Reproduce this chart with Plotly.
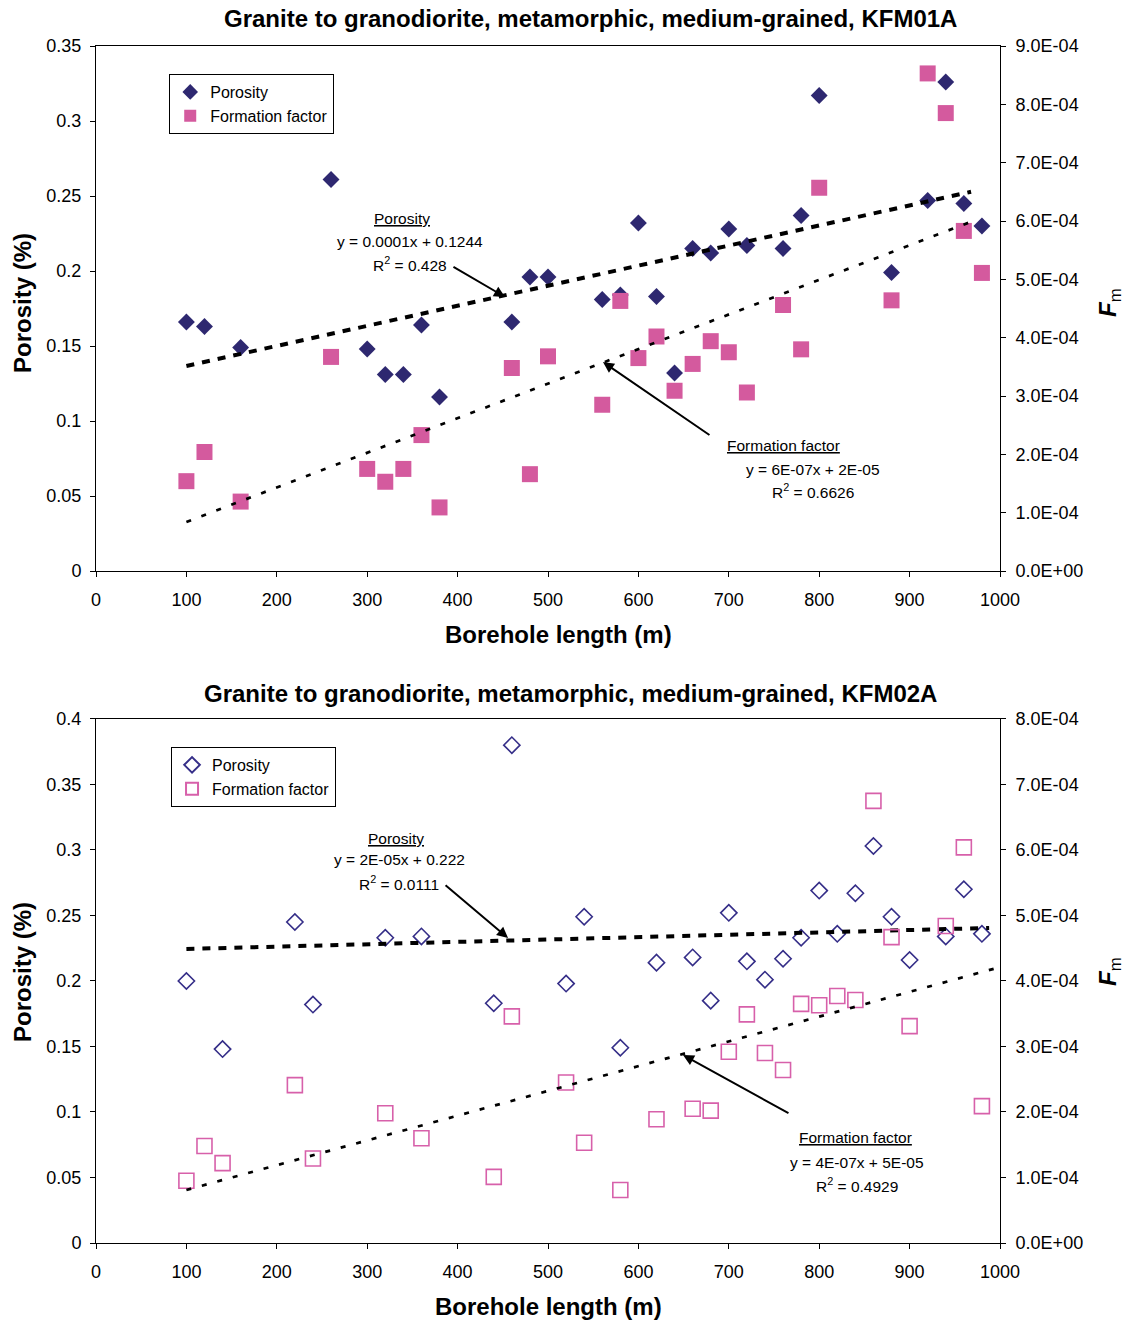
import numpy as np
import plotly.graph_objects as go

# ---------------- data ----------------
# KFM01A
x_top = [100, 120, 160, 260, 300, 320, 340, 360, 380, 460, 480, 500, 560, 580, 600,
         620, 640, 660, 680, 700, 720, 760, 780, 800, 880, 920, 940, 960, 980]
por_top = [0.166, 0.163, 0.149, 0.261, 0.148, 0.131, 0.131, 0.164, 0.116, 0.166, 0.196,
           0.196, 0.181, 0.184, 0.232, 0.183, 0.132, 0.215, 0.212, 0.228, 0.217, 0.215,
           0.237, 0.317, 0.199, 0.247, 0.326, 0.245, 0.230]
ff_top = [1.54e-4, 2.04e-4, 1.19e-4, 3.67e-4, 1.75e-4, 1.53e-4, 1.75e-4, 2.33e-4, 1.09e-4,
          3.48e-4, 1.66e-4, 3.68e-4, 2.85e-4, 4.63e-4, 3.65e-4, 4.02e-4, 3.09e-4, 3.55e-4,
          3.94e-4, 3.75e-4, 3.06e-4, 4.56e-4, 3.80e-4, 6.57e-4, 4.64e-4, 8.53e-4, 7.85e-4,
          5.83e-4, 5.11e-4]

# KFM02A
x_bot_por = [100, 140, 220, 240, 320, 360, 440, 460, 520, 540, 580, 620, 660, 680, 700,
             720, 740, 760, 780, 800, 820, 840, 860, 880, 900, 940, 960, 980]
por_bot = [0.200, 0.148, 0.245, 0.182, 0.233, 0.234, 0.183, 0.380, 0.198, 0.249, 0.149,
           0.214, 0.218, 0.185, 0.252, 0.215, 0.201, 0.217, 0.233, 0.269, 0.236, 0.267,
           0.303, 0.249, 0.216, 0.234, 0.270, 0.236]
x_bot_ff = [100, 120, 140, 220, 240, 320, 360, 440, 460, 520, 540, 580, 620, 660, 680,
            700, 720, 740, 760, 780, 800, 820, 840, 860, 880, 900, 940, 960, 980]
ff_bot = [0.95e-4, 1.48e-4, 1.22e-4, 2.41e-4, 1.29e-4, 1.98e-4, 1.60e-4, 1.01e-4, 3.46e-4,
          2.45e-4, 1.53e-4, 0.81e-4, 1.89e-4, 2.05e-4, 2.02e-4, 2.92e-4, 3.49e-4, 2.90e-4,
          2.64e-4, 3.65e-4, 3.63e-4, 3.77e-4, 3.71e-4, 6.75e-4, 4.67e-4, 3.31e-4, 4.84e-4,
          6.04e-4, 2.09e-4]

# trendlines as drawn in the picture: (slope, intercept, x start, x end)
trend_top_por = [1.338e-4, 0.1233, 100, 968]
trend_top_ff = [5.93e-7, 2.47e-5, 100, 968]
trend_bot_por = [1.81e-5, 0.2226, 100, 988]
trend_bot_ff = [3.78e-7, 4.32e-5, 100, 1000]

titles = ["Granite to granodiorite, metamorphic, medium-grained, KFM01A",
          "Granite to granodiorite, metamorphic, medium-grained, KFM02A"]
x_ticks = [0, 100, 200, 300, 400, 500, 600, 700, 800, 900, 1000]
right_ticks_top = [0, 1e-4, 2e-4, 3e-4, 4e-4, 5e-4, 6e-4, 7e-4, 8e-4, 9e-4]
right_ticks_bot = [0, 1e-4, 2e-4, 3e-4, 4e-4, 5e-4, 6e-4, 7e-4, 8e-4]
eq_top_por = ["y = 0.0001x + 0.1244", "R<sup>2</sup> = 0.428"]
eq_top_ff = ["y = 6E-07x + 2E-05", "R<sup>2</sup> = 0.6626"]
eq_bot_por = ["y = 2E-05x + 0.222", "R<sup>2</sup> = 0.0111"]
eq_bot_ff = ["y = 4E-07x + 5E-05", "R<sup>2</sup> = 0.4929"]

# ---------------- style ----------------
FONT = "Liberation Sans, Arial, sans-serif"
NAVY = "#2E2870"
PINK = "#D45A9E"
OPEN_NAVY = "#352E88"
OPEN_PINK = "#D760AA"


def fmt_e(v):
    return f"{v:.1E}"


def trend(params):
    k, b, x0, x1 = params
    xx = np.array([x0, x1], dtype=float)
    return xx, k * xx + b


fig = go.Figure()

# ---- top panel ----
fig.add_trace(go.Scatter(x=x_top, y=por_top, mode="markers", name="Porosity",
                         marker=dict(symbol="diamond", size=13, color=NAVY, line=dict(width=0)),
                         xaxis="x", yaxis="y", legend="legend"))
fig.add_trace(go.Scatter(x=x_top, y=ff_top, mode="markers", name="Formation factor",
                         marker=dict(symbol="square", size=16, color=PINK, line=dict(width=0)),
                         xaxis="x", yaxis="y2", legend="legend"))
tx, ty = trend(trend_top_por)
fig.add_trace(go.Scatter(x=tx, y=ty, mode="lines", showlegend=False,
                         line=dict(color="black", width=4, dash="8px,8px"),
                         xaxis="x", yaxis="y"))
tx, ty = trend(trend_top_ff)
fig.add_trace(go.Scatter(x=tx, y=ty, mode="lines", showlegend=False,
                         line=dict(color="black", width=2.7, dash="5px,11px"),
                         xaxis="x", yaxis="y2"))

# ---- bottom panel ----
fig.add_trace(go.Scatter(x=x_bot_por, y=por_bot, mode="markers", name="Porosity",
                         marker=dict(symbol="diamond-open", size=12.5, color=OPEN_NAVY,
                                     line=dict(width=1.6, color=OPEN_NAVY)),
                         xaxis="x2", yaxis="y3", legend="legend2"))
fig.add_trace(go.Scatter(x=x_bot_ff, y=ff_bot, mode="markers", name="Formation factor",
                         marker=dict(symbol="square-open", size=15, color=OPEN_PINK,
                                     line=dict(width=1.6, color=OPEN_PINK)),
                         xaxis="x2", yaxis="y4", legend="legend2"))
tx, ty = trend(trend_bot_por)
fig.add_trace(go.Scatter(x=tx, y=ty, mode="lines", showlegend=False,
                         line=dict(color="black", width=4, dash="8px,8px"),
                         xaxis="x2", yaxis="y3"))
tx, ty = trend(trend_bot_ff)
fig.add_trace(go.Scatter(x=tx, y=ty, mode="lines", showlegend=False,
                         line=dict(color="black", width=2.7, dash="5px,11px"),
                         xaxis="x2", yaxis="y4"))

TOP_DOM = [0.5614, 1.0]
BOT_DOM = [0.0, 0.4378]

tickfont = dict(family=FONT, size=18, color="black")


def xaxis(anchor):
    return dict(domain=[0, 1], anchor=anchor, range=[0, 1000], tickvals=x_ticks,
                ticks="outside", ticklen=5, tickcolor="black", showline=True,
                linecolor="black", linewidth=1, mirror=True, showgrid=False,
                zeroline=False, tickfont=tickfont, ticklabelstandoff=7, fixedrange=True)


def yleft(anchor, dom, top):
    return dict(domain=dom, anchor=anchor, range=[0, top], dtick=0.05,
                ticks="outside", ticklen=5, tickcolor="black", showline=True,
                linecolor="black", linewidth=1, showgrid=False, zeroline=False,
                tickfont=tickfont, ticklabelstandoff=5)


def yright(anchor, overlay, ticks):
    return dict(anchor=anchor, overlaying=overlay, side="right", range=[0, ticks[-1]],
                tickvals=ticks, ticktext=[fmt_e(v) for v in ticks],
                ticks="outside", ticklen=5, tickcolor="black", showline=True,
                linecolor="black", linewidth=1, showgrid=False, zeroline=False,
                tickfont=tickfont, ticklabelstandoff=6)


legend_style = dict(font=dict(family=FONT, size=16, color="black"), bgcolor="white",
                    bordercolor="black", borderwidth=1, itemsizing="constant",
                    xanchor="left", yanchor="top", tracegroupgap=0)

fig.update_layout(
    width=1127, height=1321,
    margin=dict(l=96, r=127, t=46, b=78),
    paper_bgcolor="white", plot_bgcolor="white",
    font=dict(family=FONT, color="black"),
    xaxis=xaxis("y"),
    yaxis=yleft("x", TOP_DOM, 0.35),
    yaxis2=yright("x", "y", right_ticks_top),
    xaxis2=xaxis("y3"),
    yaxis3=yleft("x2", BOT_DOM, 0.4),
    yaxis4=yright("x2", "y3", right_ticks_bot),
    legend=dict(x=0.081, y=0.9766, **legend_style),
    legend2=dict(x=0.083, y=0.4144, **legend_style),
    showlegend=True,
)


def ppx(px):  # figure pixel x -> paper x
    return (px - 96) / 904


def ppy(py):  # figure pixel y -> paper y
    return (1243 - py) / 1197


ann = []
bold = dict(family=FONT, size=24, color="black")
# titles
ann.append(dict(text="<b>" + titles[0] + "</b>", x=ppx(590), y=ppy(18), xref="paper", yref="paper",
                showarrow=False, font=bold, xanchor="center", yanchor="middle"))
ann.append(dict(text="<b>" + titles[1] + "</b>", x=ppx(570), y=ppy(693), xref="paper", yref="paper",
                showarrow=False, font=bold, xanchor="center", yanchor="middle"))
# axis titles
for cx, cy in [(558, 634), (548, 1306)]:
    ann.append(dict(text="<b>Borehole length (m)</b>", x=ppx(cx), y=ppy(cy), xref="paper",
                    yref="paper", showarrow=False, font=bold, xanchor="center", yanchor="middle"))
for cy in [303, 972]:
    ann.append(dict(text="<b>Porosity (%)</b>", x=ppx(22), y=ppy(cy), xref="paper", yref="paper",
                    showarrow=False, font=bold, textangle=-90, xanchor="center", yanchor="middle"))
    ann.append(dict(text="<b><i>F</i></b><sub>m</sub>", x=ppx(1109), y=ppy(cy), xref="paper",
                    yref="paper", showarrow=False, font=bold, textangle=-90,
                    xanchor="center", yanchor="middle"))

small = dict(family=FONT, size=15.5, color="black")


def label_block(xr, yr, head, lines, pos):
    (hx, hy), (l1x, l1y), (l2x, l2y) = pos
    return [dict(text="<u>" + head + "</u>", x=hx, y=hy, xref=xr, yref=yr, showarrow=False,
                 font=small, xanchor="center", yanchor="middle"),
            dict(text=lines[0], x=l1x, y=l1y, xref=xr, yref=yr, showarrow=False,
                 font=small, xanchor="center", yanchor="middle"),
            dict(text=lines[1], x=l2x, y=l2y, xref=xr, yref=yr, showarrow=False,
                 font=small, xanchor="center", yanchor="middle")]


ann += label_block("x", "y", "Porosity", eq_top_por,
                   [(338.5, 0.2353), (347.3, 0.2200), (347.3, 0.2047)])
ann += label_block("x", "y", "Formation factor", eq_top_ff,
                   [(760.0, 0.0840), (793.1, 0.0680), (793.1, 0.0533)])
ann += label_block("x2", "y3", "Porosity", eq_bot_por,
                   [(331.9, 0.3084), (335.2, 0.2924), (335.2, 0.2748)])
ann += label_block("x2", "y3", "Formation factor", eq_bot_ff,
                   [(839.6, 0.0809), (841.8, 0.0618), (841.8, 0.0443)])

arrow = dict(showarrow=True, arrowhead=2, arrowsize=1.1, arrowwidth=2, arrowcolor="black",
             text="", standoff=0, startstandoff=0)
ann.append(dict(x=452.4, y=0.1827, xref="x", yref="y", ax=-53, ay=-31, **arrow))
ann.append(dict(x=560.8, y=0.1393, xref="x", yref="y", ax=108, ay=74, **arrow))
ann.append(dict(x=455.8, y=0.2328, xref="x2", yref="y3", ax=-64, ay=-54, **arrow))
ann.append(dict(x=649.3, y=0.1435, xref="x2", yref="y3", ax=107, ay=59, **arrow))

fig.update_layout(annotations=ann)

fig.write_html("out.html")
